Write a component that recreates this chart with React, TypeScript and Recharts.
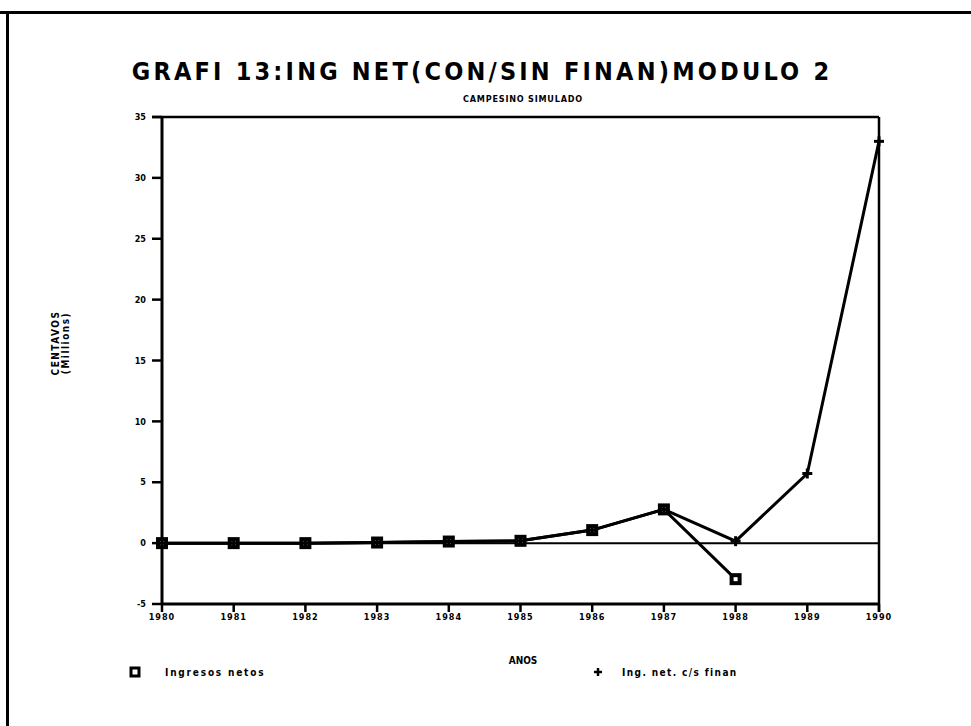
import React from "react";
import { LineChart, Line, XAxis, YAxis, ReferenceLine } from "recharts";

const years = ["1980", "1981", "1982", "1983", "1984", "1985", "1986", "1987", "1988", "1989", "1990"];
const ingresosNetos: (number | null)[] = [0, 0, 0, 0.05, 0.13, 0.19, 1.07, 2.77, -2.96, null, null];
const ingNetCsFinan: (number | null)[] = [0, 0, 0, 0.05, 0.13, 0.19, 1.07, 2.77, 0.16, 5.72, 33];
const yTicks = [-5, 0, 5, 10, 15, 20, 25, 30, 35];

const title = "GRAFI 13:ING NET(CON/SIN FINAN)MODULO 2";
const subtitle = "CAMPESINO SIMULADO";
const yLabel1 = "CENTAVOS";
const yLabel2 = "(Millions)";
const xLabel = "ANOS";
const legend1 = "Ingresos netos";
const legend2 = "Ing. net. c/s finan";

const data = years.map((y, i) => ({ year: y, a: ingresosNetos[i], b: ingNetCsFinan[i] }));

const FONT = "'DejaVu Sans Condensed', 'DejaVu Sans', sans-serif";

const SquareDot = (props: any) => {
  const { cx, cy, value } = props;
  if (value === null || value === undefined || cx == null || cy == null) return null;
  return <rect x={cx - 4} y={cy - 4} width={8} height={8} fill="#fff" stroke="#000" strokeWidth={4} />;
};

const PlusDot = (props: any) => {
  const { cx, cy, value } = props;
  if (value === null || value === undefined || cx == null || cy == null) return null;
  return (
    <g stroke="#000" strokeWidth={3}>
      <line x1={cx - 5} y1={cy} x2={cx + 5} y2={cy} />
      <line x1={cx} y1={cy - 5} x2={cx} y2={cy + 5} />
    </g>
  );
};

export default function App() {
  return (
    <div style={{ position: "absolute", left: 0, top: 0, width: 971, height: 726, background: "#fff", overflow: "hidden" }}>
      <div style={{ position: "absolute", left: 0, top: 11, width: 971, height: 3, background: "#000" }} />
      <div style={{ position: "absolute", left: 6, top: 11, width: 3, height: 715, background: "#000" }} />
      <LineChart
        width={971}
        height={726}
        data={data}
        margin={{ top: 117, right: 92, left: 102, bottom: 92 }}
        style={{ position: "absolute", left: 0, top: 0 }}
      >
        <text x={482} y={80} textAnchor="middle" fontFamily={FONT} fontWeight="bold" fontSize={25} letterSpacing={3.2} fill="#000">
          {title}
        </text>
        <text x={523} y={102} textAnchor="middle" fontFamily={FONT} fontWeight="bold" fontSize={9} letterSpacing={0.8} fill="#000">
          {subtitle}
        </text>
        <text transform="translate(59,343) rotate(-90)" textAnchor="middle" fontFamily={FONT} fontWeight="bold" fontSize={10} letterSpacing={1.5} fill="#000">
          <tspan x={0} dy={0}>{yLabel1}</tspan>
          <tspan x={0} dy={10}>{yLabel2}</tspan>
        </text>
        <text x={523} y={664} textAnchor="middle" fontFamily={FONT} fontWeight="bold" fontSize={10} fill="#000">
          {xLabel}
        </text>
        <rect x={131} y={668} width={8} height={8} fill="#fff" stroke="#000" strokeWidth={3} />
        <text x={165} y={676} fontFamily={FONT} fontWeight="bold" fontSize={10} letterSpacing={1.8} fill="#000">
          {legend1}
        </text>
        <g stroke="#000" strokeWidth={2.5}>
          <line x1={594} y1={672} x2={602} y2={672} />
          <line x1={598} y1={668} x2={598} y2={676} />
        </g>
        <text x={622} y={676} fontFamily={FONT} fontWeight="bold" fontSize={10} letterSpacing={1.4} fill="#000">
          {legend2}
        </text>
        <line x1={152} y1={117} x2={879} y2={117} stroke="#000" strokeWidth={2.5} />
        <line x1={879} y1={117} x2={879} y2={612} stroke="#000" strokeWidth={2.5} />
        <XAxis
          dataKey="year"
          height={30}
          ticks={years}
          interval={0}
          axisLine={{ stroke: "#000", strokeWidth: 3 }}
          tickLine={{ stroke: "#000", strokeWidth: 2.5 }}
          tickSize={8}
          tick={{ fill: "#000", fontSize: 9, fontFamily: FONT, fontWeight: "bold", letterSpacing: 1 }}
        />
        <YAxis
          width={60}
          domain={[-5, 35]}
          ticks={yTicks}
          interval={0}
          axisLine={{ stroke: "#000", strokeWidth: 3 }}
          tickLine={{ stroke: "#000", strokeWidth: 2.5 }}
          tickSize={10}
          tickMargin={6}
          tick={{ fill: "#000", fontSize: 9, fontFamily: FONT, fontWeight: "bold" }}
        />
        <ReferenceLine y={0} stroke="#000" strokeWidth={2} />
        <Line
          dataKey="a"
          stroke="#000"
          strokeWidth={3}
          dot={<SquareDot />}
          isAnimationActive={false}
          connectNulls={false}
        />
        <Line
          dataKey="b"
          stroke="#000"
          strokeWidth={3}
          dot={<PlusDot />}
          isAnimationActive={false}
          connectNulls={false}
        />
      </LineChart>
    </div>
  );
}
